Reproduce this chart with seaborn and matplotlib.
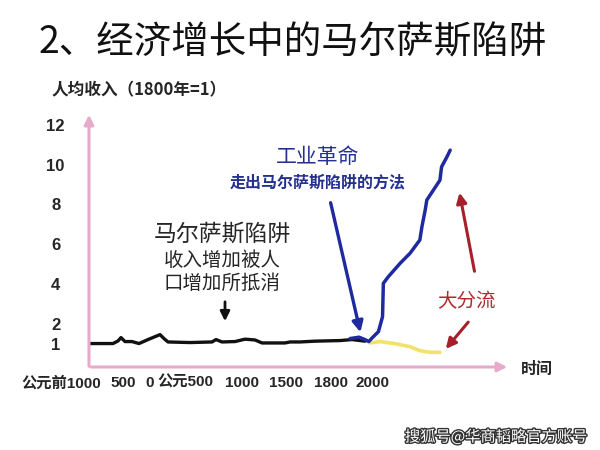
import numpy as np
import pandas as pd
import matplotlib
matplotlib.use("Agg")
import matplotlib.pyplot as plt
import matplotlib.patheffects as pe
import seaborn as sns

# ---- 数据 ----
black_years = [-1000, -890, -760, -710, -680, -640, -570, -500, -410, -290, -250, -210,
               10, 230, 270, 330, 460, 560, 660, 730, 960, 1010, 1110, 1260, 1510, 1630, 1760]
black_income = [1.0, 1.0, 1.0, 1.13, 1.3, 1.1, 1.1, 1.0, 1.2, 1.45, 1.25, 1.08,
                1.05, 1.08, 1.2, 1.08, 1.1, 1.22, 1.18, 1.03, 1.03, 1.08, 1.08, 1.12, 1.15, 1.2, 1.12]

blue_years = [1610, 1700, 1760, 1798, 1807, 1823, 1833, 1835, 1847, 1876, 1900,
              1924, 1929, 1937, 1941, 1957, 1973, 1977, 1990, 1998]
blue_income = [1.25, 1.32, 1.2, 1.1, 1.27, 1.6, 2.35, 4.03, 4.36, 5.04, 5.54,
               6.21, 6.87, 7.71, 8.22, 8.72, 9.22, 9.89, 10.39, 10.73]

yellow_years = [1802, 1827, 1868, 1900, 1924, 1949, 1973]
yellow_income = [1.03, 1.1, 0.98, 0.84, 0.64, 0.56, 0.56]

y_ticks = [1, 2, 4, 6, 8, 10, 12]
x_tick_labels = ["公元前1000", "500", "0", "公元500", "1000", "1500", "1800", "2000"]
x_tick_px = [61, 123, 150, 185, 242, 286, 331, 373]

W, H = 600, 450


def fp(px, py):
    # 像素 -> figure fraction
    return (px / W, 1 - py / H)


# 示意图的时间轴并不等距：1800 年以后被拉伸
def fwd(x):
    x = np.asarray(x, float)
    return np.where(x <= 1800, (x + 1000) * 0.1, 280 + (x - 1800) * 0.41)


def inv(u):
    u = np.asarray(u, float)
    return np.where(u <= 280, u / 0.1 - 1000, 1800 + (u - 280) / 0.41)


sns.set_style("white")
plt.rcParams['font.family'] = ['Liberation Sans', 'Noto Sans CJK SC', 'DejaVu Sans']
cjk = ['Noto Sans CJK SC', 'DejaVu Sans']

fig = plt.figure(figsize=(6, 4.5), dpi=100)
ax = fig.add_axes([89 / W, 1 - 367 / H, (505 - 89) / W, (367 - 113) / H])
ax.set_xscale('function', functions=(fwd, inv))

df_black = pd.DataFrame({'year': black_years, 'income': black_income})
df_blue = pd.DataFrame({'year': blue_years, 'income': blue_income})
df_yellow = pd.DataFrame({'year': yellow_years, 'income': yellow_income})

sns.lineplot(data=df_black, x='year', y='income', ax=ax, color='#111111', lw=2.4, sort=False)
sns.lineplot(data=df_yellow, x='year', y='income', ax=ax, color='#f2e26a', lw=2.6, sort=False)
sns.lineplot(data=df_blue, x='year', y='income', ax=ax, color='#1f2a9e', lw=2.5, sort=False)

ax.set_xlim(-1000, inv(416))
ax.set_ylim(-0.18, 12.6)
ax.set_xlabel('')
ax.set_ylabel('')
ax.set_xticks([])
ax.set_yticks(y_ticks)
ax.set_yticklabels([str(t) for t in y_ticks], fontsize=12, fontweight='bold', ha='center')
ax.tick_params(axis='y', length=0, pad=24)
for s in ax.spines.values():
    s.set_visible(False)
ax.patch.set_alpha(0)

pink = '#e8aacb'
# 坐标轴箭头
ax.annotate('', xy=fp(89, 112), xytext=fp(89, 369), xycoords='figure fraction',
            arrowprops=dict(arrowstyle='-|>', color=pink, lw=2.2, mutation_scale=14))
ax.annotate('', xy=fp(510, 367), xytext=fp(88, 367), xycoords='figure fraction',
            arrowprops=dict(arrowstyle='-|>', color=pink, lw=2.2, mutation_scale=14))

# 标题与轴标签
fig.text(*fp(39, 43), '2、经济增长中的马尔萨斯陷阱', fontsize=27, ha='left', va='center',
         color='#111111', fontweight='medium', family=cjk)
fig.text(*fp(52, 90), '人均收入（1800年=1）', fontsize=12, fontweight='bold', ha='left', va='center',
         family=cjk)
fig.text(*fp(537, 369), '时间', fontsize=11.5, fontweight='bold', ha='center', va='center', family=cjk)
for lab, px in zip(x_tick_labels, x_tick_px):
    fig.text(*fp(px, 383), lab, fontsize=11, fontweight='bold', ha='center', va='center')

# 注释
navy = '#23308f'
fig.text(*fp(318, 157), '工业革命', fontsize=15, ha='center', va='center', color=navy, family=cjk)
fig.text(*fp(318, 182), '走出马尔萨斯陷阱的方法', fontsize=11.5, fontweight='bold',
         ha='center', va='center', color=navy, family=cjk)
ax.annotate('', xy=fp(361, 335), xytext=fp(330, 200), xycoords='figure fraction',
            arrowprops=dict(arrowstyle='-|>', color='#1f2a9e', lw=2.4, mutation_scale=16))

fig.text(*fp(222, 234), '马尔萨斯陷阱', fontsize=16.5, ha='center', va='center', family=cjk,
         fontweight='medium')
fig.text(*fp(222, 260), '收入增加被人', fontsize=14, ha='center', va='center', family=cjk,
         fontweight='medium')
fig.text(*fp(222, 283), '口增加所抵消', fontsize=14, ha='center', va='center', family=cjk,
         fontweight='medium')
ax.annotate('', xy=fp(225, 324), xytext=fp(225, 299), xycoords='figure fraction',
            arrowprops=dict(arrowstyle='-|>', color='#111111', lw=2, mutation_scale=14))

red = '#b0282a'
fig.text(*fp(466, 302), '大分流', fontsize=14, ha='center', va='center', color=red, family=cjk)
ax.annotate('', xy=fp(459, 190), xytext=fp(475, 274), xycoords='figure fraction',
            arrowprops=dict(arrowstyle='-|>', color='#a5202a', lw=2.2, mutation_scale=15))
ax.annotate('', xy=fp(444, 351), xytext=fp(470, 320), xycoords='figure fraction',
            arrowprops=dict(arrowstyle='-|>', color='#a5202a', lw=2.2, mutation_scale=15))

# 水印
fig.text(*fp(496, 437), '搜狐号@华商韬略官方账号', fontsize=11, ha='center', va='center',
         color='white', family=cjk,
         path_effects=[pe.withStroke(linewidth=2, foreground='#333333')])

fig.savefig('out.png', dpi=100)
